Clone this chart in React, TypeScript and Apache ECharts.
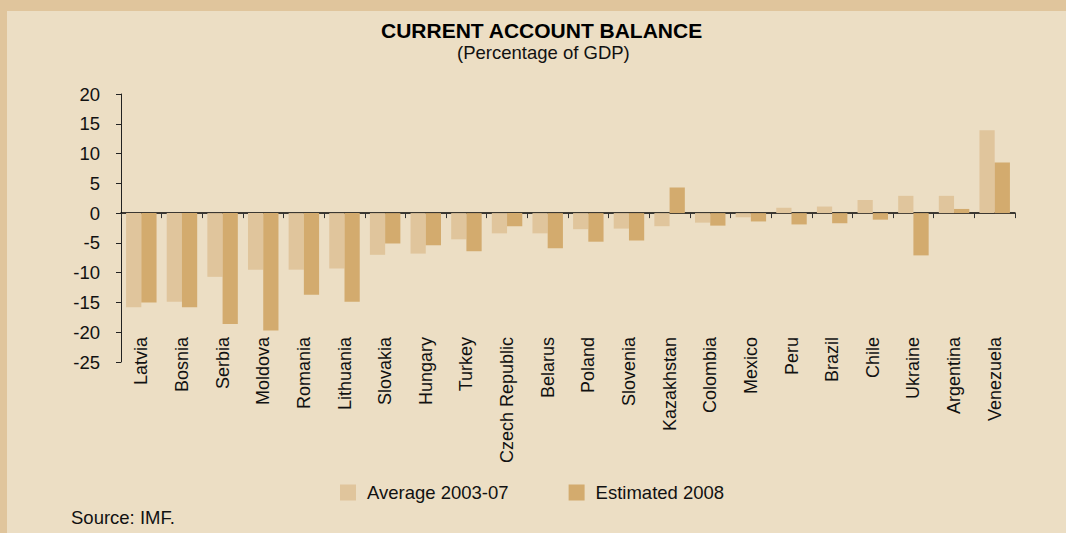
import React, { useEffect, useRef } from "react";
import * as echarts from "echarts";

const categories = [
  "Latvia", "Bosnia", "Serbia", "Moldova", "Romania", "Lithuania", "Slovakia",
  "Hungary", "Turkey", "Czech Republic", "Belarus", "Poland", "Slovenia",
  "Kazakhstan", "Colombia", "Mexico", "Peru", "Brazil", "Chile", "Ukraine",
  "Argentina", "Venezuela",
];
const average2003to07 = [
  -15.8, -14.9, -10.7, -9.5, -9.5, -9.3, -7.0, -6.8, -4.4, -3.4, -3.4, -2.7,
  -2.6, -2.2, -1.6, -0.7, 0.9, 1.1, 2.2, 2.9, 2.9, 13.9,
];
const estimated2008 = [
  -15.0, -15.8, -18.6, -19.7, -13.7, -14.9, -5.1, -5.4, -6.4, -2.2, -5.9, -4.8,
  -4.6, 4.3, -2.1, -1.4, -1.9, -1.7, -1.1, -7.1, 0.7, 8.5,
];
const seriesNames = ["Average 2003-07", "Estimated 2008"];
const titleText = "CURRENT ACCOUNT BALANCE";
const subtitleText = "(Percentage of GDP)";
const sourceText = "Source: IMF.";

const FONT = "'Liberation Sans', Arial, sans-serif";

export default function App() {
  const ref = useRef<HTMLDivElement>(null);
  useEffect(() => {
    if (!ref.current) return;
    const chart = echarts.init(ref.current, undefined, { renderer: "svg" });
    chart.setOption({
      animation: false,
      backgroundColor: "#e0c59c",
      textStyle: { fontFamily: FONT },
      graphic: [
        {
          type: "rect",
          z: -10,
          shape: { x: 7, y: 11, width: 1059, height: 522 },
          style: { fill: "#ecdec4" },
        },
        {
          type: "text",
          left: 71,
          top: 508,
          style: { text: sourceText, fontSize: 18.5, fill: "#111", fontFamily: FONT },
        },
      ],
      title: [
        {
          text: titleText,
          left: 381,
          top: 20,
          padding: 0,
          textStyle: { fontSize: 21, fontWeight: "bold", color: "#000", fontFamily: FONT },
        },
        {
          text: subtitleText,
          left: 457,
          top: 43,
          padding: 0,
          textStyle: { fontSize: 18.5, fontWeight: "normal", color: "#111", fontFamily: FONT },
        },
      ],
      legend: {
        left: 340,
        top: 483,
        padding: 0,
        itemWidth: 16,
        itemHeight: 16,
        itemGap: 60,
        icon: "rect",
        textStyle: { fontSize: 18.5, color: "#111", fontFamily: FONT, padding: [0, 0, 0, 6] },
        data: seriesNames,
      },
      grid: { left: 121, right: 51, top: 94, bottom: 171 },
      xAxis: [
        {
          type: "category",
          data: categories,
          axisLine: { onZero: true, lineStyle: { color: "#000", width: 1.5 } },
          axisTick: { show: true, interval: 0, length: 5, lineStyle: { color: "#333" } },
          axisLabel: { show: false },
        },
        {
          type: "category",
          data: categories,
          position: "bottom",
          offset: -27,
          axisLine: { show: false },
          axisTick: { show: false },
          axisLabel: {
            interval: 0,
            rotate: 90,
            fontSize: 18,
            color: "#111",
            margin: 2,
            fontFamily: FONT,
          },
        },
      ],
      yAxis: {
        type: "value",
        min: -25,
        max: 20,
        interval: 5,
        splitLine: { show: false },
        axisLine: { show: true, lineStyle: { color: "#222", width: 1 } },
        axisTick: { show: true, length: 5, lineStyle: { color: "#222" } },
        axisLabel: { fontSize: 18.5, color: "#111", margin: 21, fontFamily: FONT },
      },
      series: [
        {
          name: seriesNames[0],
          type: "bar",
          xAxisIndex: 0,
          data: average2003to07,
          barGap: "0%",
          barCategoryGap: "25%",
          itemStyle: { color: "#e0c59c" },
        },
        {
          name: seriesNames[1],
          type: "bar",
          xAxisIndex: 0,
          data: estimated2008,
          barGap: "0%",
          barCategoryGap: "25%",
          itemStyle: { color: "#d3ab6e" },
        },
      ],
    });
    return () => chart.dispose();
  }, []);
  return (
    <div
      ref={ref}
      style={{ position: "absolute", left: 0, top: 0, width: 1066, height: 533 }}
    />
  );
}
